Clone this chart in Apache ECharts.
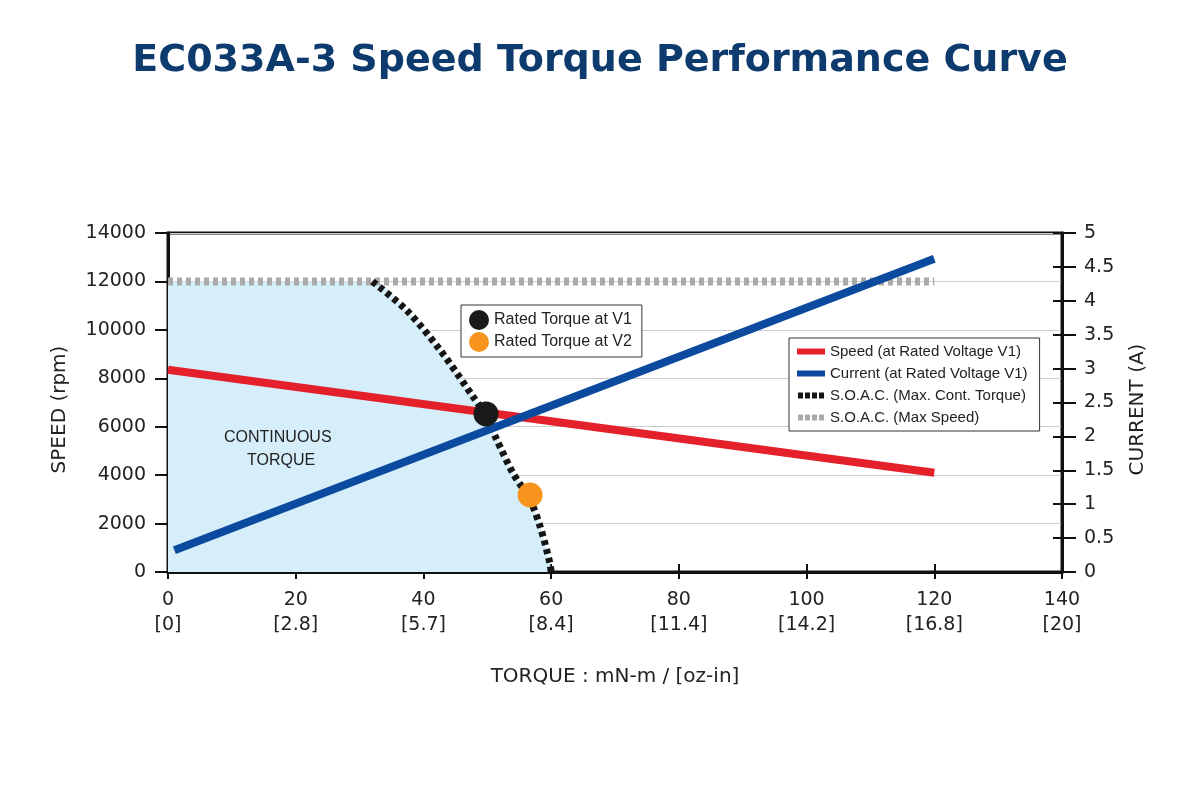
<!DOCTYPE html>
<html>
<head>
<meta charset="utf-8">
<script src="https://cdn.jsdelivr.net/npm/echarts@6/dist/echarts.min.js"></script>
<style>
html,body{margin:0;padding:0;background:#fff;}
#chart{width:1200px;height:800px;}
</style>
</head>
<body>
<div id="chart"></div>
<script>
// ---- data ----
const torqueTicks = [0, 20, 40, 60, 80, 100, 120, 140];
const ozInLabels = ['0', '2.8', '5.7', '8.4', '11.4', '14.2', '16.8', '20'];

const speedTorque = [0, 120];
const speedRpm = [8350, 4100];

const currentTorque = [1, 120];
const currentAmp = [0.32, 4.62];

const maxSpeedTorque = [0, 120];
const maxSpeedRpm = [12000, 12000];

const soacTorque = [32, 37.4, 42.6, 47.8, 49.6, 51.5, 54.0, 56.7, 58.3, 59.8, 60];
const soacRpm = [12000, 10800, 9170, 7230, 6520, 5450, 4090, 2970, 1860, 370, 0];

const ratedV1 = [49.8, 6530];
const ratedV2 = [56.7, 3180];

const FONT = 'DejaVu Sans';
const NARROW = '"Liberation Sans Narrow", "Liberation Sans", Arial, sans-serif';

const zip = (xs, ys) => xs.map((x, i) => [x, ys[i]]);
const soacPts = zip(soacTorque, soacRpm);
const fillPts = [[maxSpeedTorque[0], maxSpeedRpm[0]]].concat(soacPts);

const dashIcon = 'path://M0,0h5v6h-5z M7,0h5v6h-5z M14,0h5v6h-5z M21,0h5v6h-5z';

const chart = echarts.init(document.getElementById('chart'), null, {renderer: 'canvas'});

const option = {
  animation: false,
  backgroundColor: '#ffffff',
  title: {
    text: 'EC033A-3 Speed Torque Performance Curve',
    left: 'center',
    top: 37,
    textStyle: {fontFamily: FONT, fontWeight: 'bold', fontSize: 38, color: '#0d3b6e'}
  },
  legend: [
    {
      data: [
        {name: 'Rated Torque at V1', icon: 'circle'},
        {name: 'Rated Torque at V2', icon: 'circle'}
      ],
      orient: 'vertical',
      left: 461, top: 305,
      padding: [5, 10, 5, 8],
      itemWidth: 20, itemHeight: 20, itemGap: 2,
      backgroundColor: '#fff', borderColor: '#333', borderWidth: 1,
      selectedMode: false,
      textStyle: {fontFamily: NARROW, fontSize: 16, color: '#222'}
    },
    {
      data: [
        {name: 'Speed (at Rated Voltage V1)', icon: 'rect'},
        {name: 'Current (at Rated Voltage V1)', icon: 'rect'},
        {name: 'S.O.A.C. (Max. Cont. Torque)', icon: dashIcon},
        {name: 'S.O.A.C. (Max Speed)', icon: dashIcon}
      ],
      orient: 'vertical',
      left: 789, top: 338,
      padding: [6, 12, 6, 8],
      itemWidth: 28, itemHeight: 6, itemGap: 7,
      backgroundColor: '#fff', borderColor: '#333', borderWidth: 1,
      selectedMode: false,
      textStyle: {fontFamily: NARROW, fontSize: 15, color: '#222'}
    }
  ],
  grid: {
    left: 168, right: 138, top: 233, bottom: 228,
    show: true, borderColor: '#111', borderWidth: 3, backgroundColor: 'transparent'
  },
  xAxis: [
    {
      type: 'value', min: 0, max: 140, interval: 20,
      position: 'bottom',
      name: 'TORQUE : mN-m / [oz-in]',
      nameLocation: 'middle', nameGap: 95,
      nameTextStyle: {fontFamily: FONT, fontSize: 20, color: '#222'},
      axisLine: {show: true, onZero: false, lineStyle: {color: '#111', width: 3}},
      axisTick: {show: true, inside: false, length: 7, lineStyle: {color: '#111', width: 2}},
      axisLabel: {
        margin: 16, fontFamily: FONT, fontSize: 19, color: '#222', lineHeight: 25,
        formatter: function (v) {
          const i = torqueTicks.indexOf(v);
          return v + '\n[' + (i >= 0 ? ozInLabels[i] : '') + ']';
        }
      },
      splitLine: {show: false}
    },
    {
      type: 'value', min: 0, max: 140, interval: 20,
      position: 'bottom',
      axisLine: {show: false, onZero: false},
      axisTick: {show: true, inside: true, length: 8, lineStyle: {color: '#111', width: 2}},
      axisLabel: {show: false},
      splitLine: {show: false}
    }
  ],
  yAxis: [
    {
      type: 'value', min: 0, max: 14000, interval: 2000,
      position: 'left',
      name: 'SPEED (rpm)',
      nameLocation: 'middle', nameGap: 98, nameRotate: 90,
      nameTextStyle: {fontFamily: FONT, fontSize: 20, color: '#222', padding: [0, 14, 0, 0]},
      axisLine: {show: true, onZero: false, lineStyle: {color: '#111', width: 3}},
      axisTick: {show: true, inside: false, length: 13, lineStyle: {color: '#111', width: 2}},
      axisLabel: {margin: 22, fontFamily: FONT, fontSize: 19, color: '#222',
        formatter: function (v) { return String(v); }},
      splitLine: {show: true, lineStyle: {color: '#cccccc', width: 1}}
    },
    {
      type: 'value', min: 0, max: 5, interval: 0.5,
      position: 'right',
      name: 'CURRENT (A)',
      nameLocation: 'middle', nameGap: 66, nameRotate: 90,
      nameTextStyle: {fontFamily: FONT, fontSize: 20, color: '#222', padding: [0, 14, 0, 0]},
      axisLine: {show: true, onZero: false, lineStyle: {color: '#111', width: 3}},
      axisTick: {show: true, inside: false, length: 14, lineStyle: {color: '#111', width: 2}},
      axisLabel: {margin: 22, fontFamily: FONT, fontSize: 19, color: '#222'},
      splitLine: {show: false}
    },
    {
      type: 'value', min: 0, max: 5, interval: 0.5,
      position: 'right',
      axisLine: {show: false, onZero: false},
      axisTick: {show: true, inside: true, length: 9, lineStyle: {color: '#111', width: 2}},
      axisLabel: {show: false},
      splitLine: {show: false}
    }
  ],
  graphic: [
    {
      type: 'text', left: 224, top: 430,
      style: {
        text: 'CONTINUOUS',
        font: '16px ' + NARROW, fill: '#222'
      },
      z: 5
    },
    {
      type: 'text', left: 247, top: 453,
      style: {
        text: 'TORQUE',
        font: '16px ' + NARROW, fill: '#222'
      },
      z: 5
    }
  ],
  series: [
    {
      name: 'Continuous Region', type: 'line',
      xAxisIndex: 0, yAxisIndex: 0,
      data: fillPts, smooth: 0.3, symbol: 'none',
      lineStyle: {width: 0, opacity: 0},
      areaStyle: {color: '#d5eefa', opacity: 1},
      z: 1, silent: true
    },
    {
      name: 'S.O.A.C. (Max Speed)', type: 'line',
      xAxisIndex: 0, yAxisIndex: 0,
      data: zip(maxSpeedTorque, maxSpeedRpm), symbol: 'none',
      color: '#aaaaaa',
      lineStyle: {color: '#aaaaaa', width: 8, type: [5, 4], cap: 'butt'},
      z: 2
    },
    {
      name: 'S.O.A.C. (Max. Cont. Torque)', type: 'line',
      xAxisIndex: 0, yAxisIndex: 0,
      data: soacPts, smooth: 0.3, symbol: 'none',
      color: '#151515',
      lineStyle: {color: '#151515', width: 7, type: [5, 4], cap: 'butt'},
      z: 3
    },
    {
      name: 'Speed (at Rated Voltage V1)', type: 'line',
      xAxisIndex: 0, yAxisIndex: 0,
      data: zip(speedTorque, speedRpm), symbol: 'none',
      color: '#e4202a',
      lineStyle: {color: '#e4202a', width: 8, cap: 'butt'},
      z: 4
    },
    {
      name: 'Current (at Rated Voltage V1)', type: 'line',
      xAxisIndex: 0, yAxisIndex: 1,
      data: zip(currentTorque, currentAmp), symbol: 'none',
      color: '#0b4a9e',
      lineStyle: {color: '#0b4a9e', width: 8, cap: 'butt'},
      z: 4
    },
    {
      name: 'Rated Torque at V1', type: 'scatter',
      xAxisIndex: 0, yAxisIndex: 0,
      data: [ratedV1], symbol: 'circle', symbolSize: 25,
      itemStyle: {color: '#1a1a1a', opacity: 1},
      z: 6
    },
    {
      name: 'Rated Torque at V2', type: 'scatter',
      xAxisIndex: 0, yAxisIndex: 0,
      data: [ratedV2], symbol: 'circle', symbolSize: 25,
      itemStyle: {color: '#f7941d', opacity: 1},
      z: 6
    }
  ]
};

chart.setOption(option);
</script>
</body>
</html>
